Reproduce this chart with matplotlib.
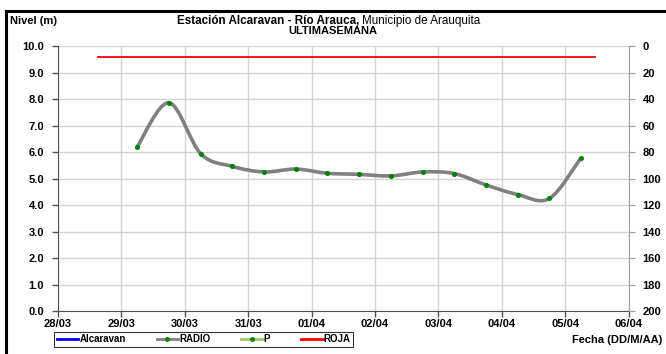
import matplotlib
matplotlib.use("Agg")
import matplotlib.pyplot as plt
import matplotlib.dates as mdates
from matplotlib.path import Path
from matplotlib.patches import PathPatch
from matplotlib.lines import Line2D
import numpy as np
import pandas as pd

plt.rcParams['font.family'] = ['Liberation Sans', 'DejaVu Sans']

# datos (cada 12 h)
fechas = pd.date_range("2023-03-29 06:00", "2023-04-05 06:00", freq="12h")
nivel = [6.20, 7.86, 5.94, 5.46, 5.25, 5.36, 5.20, 5.16,
         5.10, 5.25, 5.19, 4.76, 4.40, 4.25, 5.79]
roja_fechas = [pd.Timestamp("2023-03-28 15:00"), pd.Timestamp("2023-04-05 11:15")]
roja_nivel = [9.6, 9.6]
ticks_fecha = pd.date_range("2023-03-28", "2023-04-06", freq="D")
ticks_der = list(range(0, 201, 20))

fig = plt.figure(figsize=(6.66, 3.54), dpi=100)
ax = fig.add_axes([0.087, 0.121, 0.857, 0.749])

xn = mdates.date2num(fechas.to_pydatetime())
yv = np.array(nivel)

# linea suavizada tipo excel (bezier catmull-rom)
verts = [(xn[0], yv[0])]
codes = [Path.MOVETO]
n = len(xn)
for i in range(n - 1):
    p0 = np.array([xn[max(i - 1, 0)], yv[max(i - 1, 0)]])
    p1 = np.array([xn[i], yv[i]])
    p2 = np.array([xn[i + 1], yv[i + 1]])
    p3 = np.array([xn[min(i + 2, n - 1)], yv[min(i + 2, n - 1)]])
    c1 = p1 + (p2 - p0) / 6
    c2 = p2 - (p3 - p1) / 6
    verts += [tuple(c1), tuple(c2), tuple(p2)]
    codes += [Path.CURVE4] * 3
curva = PathPatch(Path(verts, codes), facecolor='none', edgecolor='#808080', lw=2.6, zorder=3)
ax.add_patch(curva)
ax.plot(fechas, nivel, ls='none', marker='o', ms=2.6, color='#008000', zorder=4)

ax.plot(roja_fechas, roja_nivel, color='#ff0000', lw=1.3, zorder=3)

ax.set_xlim(ticks_fecha[0], ticks_fecha[-1])
ax.set_ylim(0, 10)
ax.set_yticks(np.arange(0, 10.1, 1))
ax.yaxis.set_major_formatter(matplotlib.ticker.FormatStrFormatter('%.1f'))
ax.set_xticks(ticks_fecha)
ax.xaxis.set_major_formatter(mdates.DateFormatter('%d/%m'))
ax.grid(True, color='#d3d3d3', lw=1)
ax.set_axisbelow(True)
for lab in ax.get_xticklabels() + ax.get_yticklabels():
    lab.set_fontweight('bold')
    lab.set_fontsize(8)
ax.tick_params(axis='both', length=4, width=1, color='#505050', pad=2)
ax.tick_params(axis='y', pad=6)
ax.spines['top'].set_visible(False)
ax.spines['right'].set_visible(False)
ax.spines['left'].set_color('#505050')
ax.spines['bottom'].set_color('#505050')

ax2 = ax.twinx()
ax2.set_ylim(200, 0)
ax2.set_yticks(ticks_der)
for lab in ax2.get_yticklabels():
    lab.set_fontweight('bold')
    lab.set_fontsize(8)
ax2.tick_params(axis='y', length=4, color='#a0a0a0', pad=6)
for s in ['top', 'left', 'bottom']:
    ax2.spines[s].set_visible(False)
ax2.spines['right'].set_color('#a0a0a0')

# textos
fig.text(0.015, 0.94, "Nivel (m)", fontsize=8, fontweight='bold', va='center')
fig.text(0.540, 0.94, "Estación Alcaravan - Río Arauca,", fontsize=8.4, fontweight='bold',
         ha='right', va='center')
fig.text(0.543, 0.94, "Municipio de Arauquita", fontsize=8.4, ha='left', va='center')
fig.text(0.500, 0.912, "ULTIMASEMANA", fontsize=8, fontweight='bold', ha='center', va='center')
fig.text(0.995, 0.04, "Fecha (DD/M/AA)", fontsize=8, fontweight='bold', ha='right', va='center')

# leyenda
handles = [
    Line2D([], [], color='#0000ff', lw=2),
    Line2D([], [], color='#808080', lw=2, marker='o', ms=2.5, mfc='#008000', mec='#008000'),
    Line2D([], [], color='#99cc66', lw=2, marker='o', ms=2.5, mfc='#008000', mec='#008000'),
    Line2D([], [], color='#ff0000', lw=2),
]
leg = fig.legend(handles, ["Alcaravan", "RADIO", "P", "ROJA"], ncol=4,
                 loc='center', bbox_to_anchor=(0.306, 0.042),
                 prop={'size': 7, 'weight': 'bold'}, frameon=True, fancybox=False,
                 edgecolor='black', handlelength=2.2, handletextpad=0.1,
                 columnspacing=3.2, borderpad=0.25)
leg.get_frame().set_linewidth(0.8)

# marco exterior (superior e izquierdo)
fig.add_artist(Line2D([0.009, 1.0], [0.969, 0.969], color='black', lw=2.2,
                      transform=fig.transFigure))
fig.add_artist(Line2D([0.009, 0.009], [0.969, 0.0], color='black', lw=2.2,
                      transform=fig.transFigure))

fig.savefig("out.png", dpi=100)
